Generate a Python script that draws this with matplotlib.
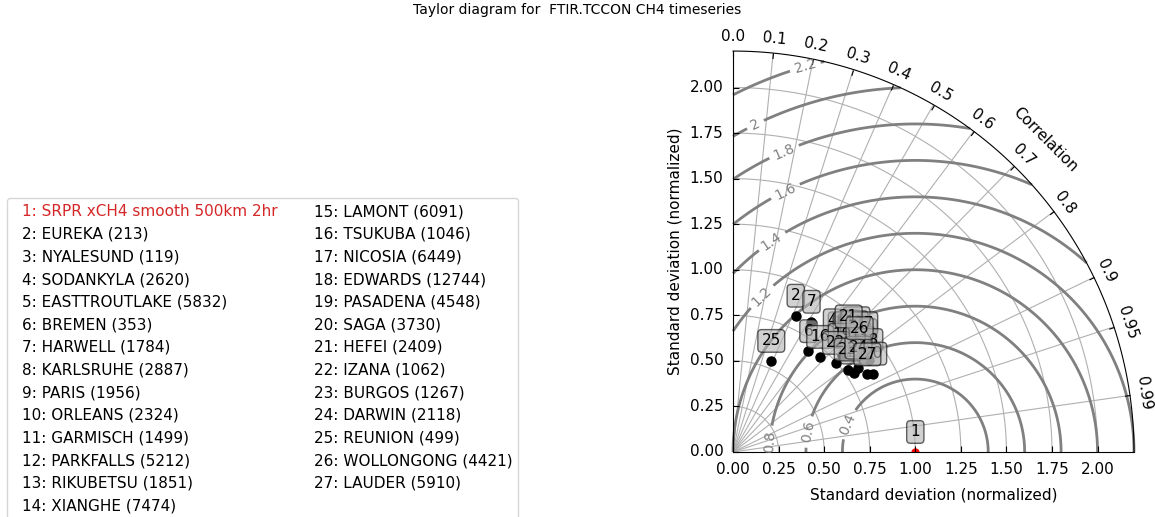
import numpy as np
import matplotlib
matplotlib.use('Agg')
import matplotlib.pyplot as plt
from matplotlib.lines import Line2D
from matplotlib.projections import PolarAxes
import mpl_toolkits.axisartist.floating_axes as FA
import mpl_toolkits.axisartist.grid_finder as GF

plt.rcParams['font.size'] = 11

title = 'Taylor diagram for  FTIR.TCCON CH4 timeseries'

# reference dataset (index 1) is plotted at std=1, corr=1
ref_label = 'SRPR xCH4 smooth 500km 2hr'

stations = ['EUREKA', 'NYALESUND', 'SODANKYLA', 'EASTTROUTLAKE', 'BREMEN',
            'HARWELL', 'KARLSRUHE', 'PARIS', 'ORLEANS', 'GARMISCH',
            'PARKFALLS', 'RIKUBETSU', 'XIANGHE', 'LAMONT', 'TSUKUBA',
            'NICOSIA', 'EDWARDS', 'PASADENA', 'SAGA', 'HEFEI', 'IZANA',
            'BURGOS', 'DARWIN', 'REUNION', 'WOLLONGONG', 'LAUDER']
counts = [213, 119, 2620, 5832, 353, 1784, 2887, 1956, 2324, 1499,
          5212, 1851, 7474, 6091, 1046, 6449, 12744, 4548, 3730, 2409, 1062,
          1267, 2118, 499, 4421, 5910]

# normalized standard deviation and correlation per station
std = [0.823, 0.825, 0.819, 0.844, 0.691, 0.834, 0.856, 0.890, 0.880, 0.921,
       0.792, 0.898, 0.908, 0.873, 0.708, 0.935, 0.902, 0.800, 0.881, 0.897,
       0.747, 0.775, 0.829, 0.542, 0.898, 0.851]
corr = [0.418, 0.691, 0.663, 0.707, 0.599, 0.516, 0.729, 0.731, 0.751, 0.735,
        0.835, 0.742, 0.788, 0.807, 0.676, 0.770, 0.829, 0.746, 0.873, 0.707,
        0.756, 0.812, 0.830, 0.387, 0.773, 0.866]

rlocs = [0.0, 0.1, 0.2, 0.3, 0.4, 0.5, 0.6, 0.7, 0.8, 0.9, 0.95, 0.99]
slocs = [0.0, 0.25, 0.5, 0.75, 1.0, 1.25, 1.5, 1.75, 2.0]
rms_levels = [0.4, 0.6, 0.8, 1.0, 1.2, 1.4, 1.6, 1.8, 2.0, 2.2]

refstd = 1.0
smax = 2.2
tmax = np.pi / 2

fig = plt.figure(figsize=(11.55, 5.17), dpi=100)
fig.suptitle(title, fontsize=10, y=0.995, va='top')

tr = PolarAxes.PolarTransform(apply_theta_transforms=False)
tlocs = np.arccos(rlocs)
gl1 = GF.FixedLocator(tlocs)
tf1 = GF.DictFormatter(dict(zip(tlocs, [str(r) for r in rlocs])))
gl2 = GF.FixedLocator(slocs)
tf2 = GF.DictFormatter(dict(zip(slocs, ['%.2f' % s for s in slocs])))
ghelper = FA.GridHelperCurveLinear(tr, extremes=(0, tmax, 0, smax),
                                   grid_locator1=gl1, tick_formatter1=tf1,
                                   grid_locator2=gl2, tick_formatter2=tf2)

ax = FA.FloatingAxes(fig, [0.6312, 0.118, 0.3541, 0.791], grid_helper=ghelper)
fig.add_axes(ax)

ax.axis['top'].set_axis_direction('bottom')
ax.axis['top'].toggle(ticklabels=True, label=True)
ax.axis['top'].major_ticklabels.set_axis_direction('top')
ax.axis['top'].label.set_axis_direction('top')
ax.axis['top'].label.set_text('Correlation')

ax.axis['left'].set_axis_direction('bottom')
ax.axis['left'].label.set_text('Standard deviation (normalized)')

ax.axis['right'].set_axis_direction('top')
ax.axis['right'].toggle(ticklabels=True, label=True)
ax.axis['right'].major_ticklabels.set_axis_direction('left')
ax.axis['right'].label.set_axis_direction('left')
ax.axis['right'].label.set_text('Standard deviation (normalized)')
ax.axis['bottom'].set_visible(False)

for side in ['top', 'left', 'right']:
    ax.axis[side].major_ticklabels.set_pad(7)
    ax.axis[side].major_ticks.set_ticksize(4)
    ax.axis[side].major_ticks.set_linewidth(1.5)
ax.axis['top'].label.set_pad(8)
ax.axis['left'].label.set_pad(10)
ax.axis['right'].label.set_pad(5)
ax.grid(True)

pax = ax.get_aux_axes(tr)

# centered RMS difference contours
rs, ts = np.meshgrid(np.linspace(0, smax, 200), np.linspace(0, tmax, 200))
rms = np.sqrt(refstd**2 + rs**2 - 2 * refstd * rs * np.cos(ts))
cs = pax.contour(ts, rs, rms, rms_levels, colors='0.5', linewidths=2)
label_xy = [(0.624, 0.156), (0.398, 0.113), (0.183, 0.059), (0.151, 0.860),
            (0.210, 1.161), (0.274, 1.457), (0.274, 1.661), (0.113, 1.817),
            (0.392, 2.129)]
manual = [(np.arctan2(y, x), np.hypot(x, y)) for x, y in label_xy]
pax.clabel(cs, inline=True, fontsize=10, fmt='%.2g', manual=manual)

theta = np.arccos(corr)
pax.plot(theta, std, 'ko', ms=6.5, ls='')
ref, = pax.plot([0], [refstd], 'o', color='red', ms=5)
ref.set_clip_path(ax.patch)

box = dict(boxstyle='round,pad=0.25', fc='0.7', ec='k', alpha=0.6)
pax.annotate('1', xy=(0, refstd), xytext=(0, 14.4), textcoords='offset points',
             ha='center', va='center', fontsize=11, bbox=box)
for i in range(len(std)):
    pax.annotate(str(i + 2), xy=(theta[i], std[i]), xytext=(0, 14.4),
                 textcoords='offset points', ha='center', va='center',
                 fontsize=11, bbox=box)

labels = ['1: ' + ref_label]
for i in range(len(stations)):
    labels.append('%d: %s (%d)' % (i + 2, stations[i], counts[i]))
handles = [Line2D([], [], ls='none') for l in labels]
leg = fig.legend(handles, labels, ncol=2, loc='upper left',
                 bbox_to_anchor=(0.006, 0.617), borderaxespad=0,
                 handlelength=0, handletextpad=0.6, columnspacing=1.75,
                 fontsize=11)
leg.get_texts()[0].set_color('tab:red')

fig.savefig('out.png', dpi=100)
